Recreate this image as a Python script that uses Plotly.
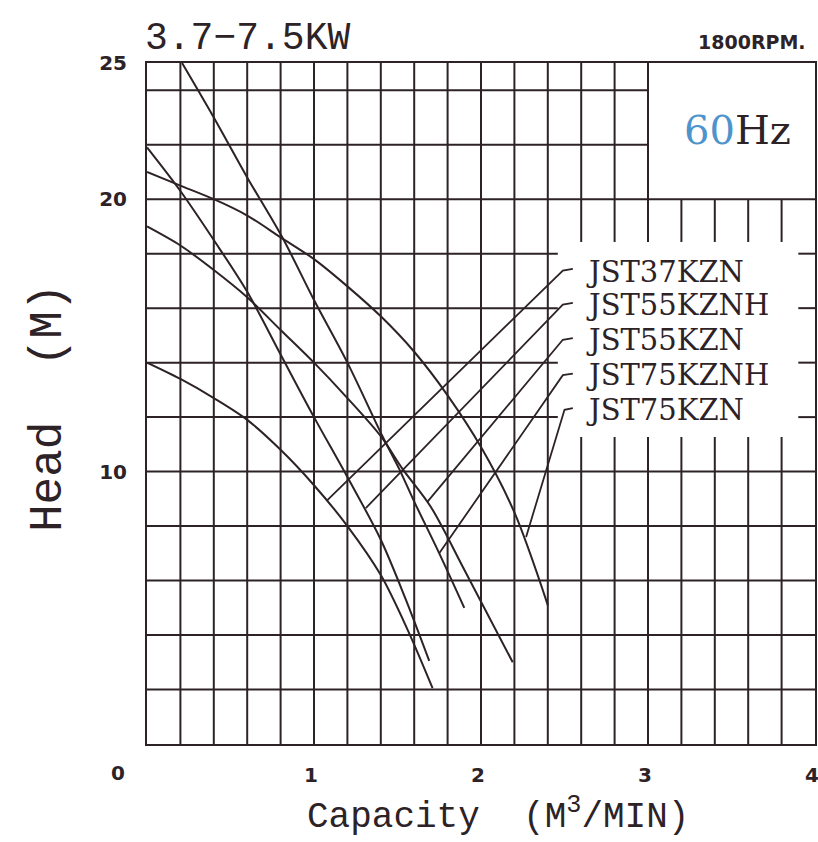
import plotly.graph_objects as go

# ---------------- data ----------------
models = ["JST37KZN", "JST55KZNH", "JST55KZN", "JST75KZNH", "JST75KZN"]

q_37kzn = [0.0, 0.2, 0.4, 0.6, 0.8, 1.0, 1.2, 1.4, 1.56, 1.71]
h_37kzn = [14.0, 13.4, 12.7, 11.9, 10.8, 9.5, 8.0, 6.2, 4.2, 2.05]

q_55kznh = [0.0, 0.2, 0.4, 0.6, 0.8, 1.0, 1.2, 1.4, 1.55, 1.69]
h_55kznh = [21.9, 20.3, 18.5, 16.6, 14.3, 12.0, 9.8, 7.5, 5.3, 3.05]

q_55kzn = [0.0, 0.2, 0.4, 0.6, 0.8, 1.0, 1.2, 1.4, 1.53, 1.7, 1.9, 2.19]
h_55kzn = [19.0, 18.3, 17.4, 16.4, 15.2, 14.0, 12.7, 11.3, 10.1, 8.7, 6.4, 3.0]

q_75kznh = [0.21, 0.4, 0.6, 0.81, 1.0, 1.2, 1.41, 1.51, 1.6, 1.75, 1.9]
h_75kznh = [25.0, 23.0, 20.8, 18.6, 16.3, 14.0, 11.3, 10.1, 8.9, 7.0, 5.0]

q_75kzn = [0.0, 0.2, 0.4, 0.6, 0.8, 1.0, 1.2, 1.4, 1.6, 1.8, 2.0, 2.2, 2.4]
h_75kzn = [21.0, 20.5, 20.0, 19.4, 18.6, 17.8, 16.8, 15.7, 14.4, 12.8, 10.9, 8.5, 5.1]

# leader lines: hook end, bend, point on curve
leader_q = [[2.55, 2.49, 1.08], [2.55, 2.49, 1.31], [2.55, 2.49, 1.68],
            [2.55, 2.49, 1.75], [2.55, 2.50, 2.27]]
leader_h = [[17.44, 17.38, 8.95], [16.19, 16.13, 8.66], [14.90, 14.84, 8.9],
            [13.60, 13.54, 7.0], [12.33, 12.27, 7.6]]
label_h = [17.33, 16.12, 14.83, 13.55, 12.26]

x_ticks = [1, 2, 3, 4]
y_ticks = [10, 20, 25]

# ---------------- styling ----------------
INK = "#2d2226"
X_MAX, Y_MAX = 4.0, 25.0
BOX_X0, BOX_X1, BOX_Y0, BOX_Y1 = 2.46, 3.90, 11.27, 18.43   # label panel
HZ_X0 = 3.0                                                  # 60Hz panel (y>20)
TICKFONT = dict(family="DejaVu Sans", size=20, color=INK, weight="bold")

fig = go.Figure()

# grid lines as shapes in data coordinates
shapes = []
def seg(x0, y0, x1, y1):
    shapes.append(dict(type="line", xref="x", yref="y", x0=x0, y0=y0, x1=x1, y1=y1,
                       line=dict(color=INK, width=2), layer="below"))

for k in range(1, 20):
    x = round(k * 0.2, 2)
    top = 20.0 if x > HZ_X0 else Y_MAX
    if BOX_X0 < x < BOX_X1:
        seg(x, 0, x, BOX_Y0)
        seg(x, BOX_Y1, x, top)
    else:
        seg(x, 0, x, top)

for y in range(2, 25, 2):
    if 20 < y < 25:
        seg(0, y, HZ_X0, y)
    elif BOX_Y0 < y < BOX_Y1:
        seg(0, y, BOX_X0, y)
        seg(BOX_X1, y, X_MAX, y)
    else:
        seg(0, y, X_MAX, y)

curves = [(q_37kzn, h_37kzn), (q_55kznh, h_55kznh), (q_55kzn, h_55kzn),
          (q_75kznh, h_75kznh), (q_75kzn, h_75kzn)]
for name, (q, h) in zip(models, curves):
    fig.add_trace(go.Scatter(x=q, y=h, mode="lines", name=name,
                             line=dict(color=INK, width=2, shape="spline", smoothing=0.9),
                             showlegend=False, hoverinfo="skip"))

for name, lq, lh in zip(models, leader_q, leader_h):
    fig.add_trace(go.Scatter(x=lq, y=lh, mode="lines",
                             line=dict(color=INK, width=1.8),
                             showlegend=False, hoverinfo="skip"))

annotations = []
for name, y in zip(models, label_h):
    annotations.append(dict(x=2.635, y=y, xref="x", yref="y", text=name, showarrow=False,
                            xanchor="left", yanchor="middle", xshift=-3,
                            font=dict(family="DejaVu Serif", size=29, color=INK)))

annotations += [
    dict(x=3.533, y=22.54, xref="x", yref="y", showarrow=False,
         text="<span style='color:#4f93cc'>60</span>Hz",
         font=dict(family="DejaVu Serif", size=40, color=INK)),
    dict(x=0.0, y=1.0367, xref="paper", yref="paper", showarrow=False,
         xanchor="left", yanchor="middle", text="3.7−7.5KW", xshift=-4,
         font=dict(family="Liberation Mono", size=38, color=INK)),
    dict(x=0.9865, y=1.031, xref="paper", yref="paper", showarrow=False,
         xanchor="right", yanchor="middle", text="1800RPM.", xshift=2,
         font=dict(family="DejaVu Sans", size=19, color=INK, weight="bold")),
    dict(x=0.5254, y=-0.104, xref="paper", yref="paper", showarrow=False,
         xanchor="center", yanchor="middle",
         text="Capacity\u00a0\u00a0(M<sup>3</sup>/MIN)",
         font=dict(family="Liberation Mono", size=36, color=INK)),
    dict(x=-0.1467, y=0.4934, xref="paper", yref="paper", showarrow=False,
         xanchor="center", yanchor="middle", textangle=-90,
         text="Head\u00a0\u00a0(M)",
         font=dict(family="Liberation Mono", size=46, color=INK)),
    dict(x=-0.0434, y=-0.0426, xref="paper", yref="paper", showarrow=False,
         xanchor="center", yanchor="middle", text="0", font=TICKFONT),
]

fig.update_layout(
    width=818, height=842,
    margin=dict(l=147, r=3, t=63, b=98, autoexpand=False),
    paper_bgcolor="white", plot_bgcolor="white",
    shapes=shapes, annotations=annotations,
    xaxis=dict(range=[0, X_MAX], tickvals=x_ticks, ticktext=[str(v) for v in x_ticks],
               showgrid=False, zeroline=False, showline=True, mirror=True, automargin=False,
               linecolor=INK, linewidth=2, ticks="", ticklabelstandoff=12,
               ticklabelshift=-3, ticklabeloverflow="allow", tickfont=TICKFONT),
    yaxis=dict(range=[0, Y_MAX], tickvals=y_ticks, ticktext=[str(v) for v in y_ticks],
               showgrid=False, zeroline=False, showline=True, mirror=True, automargin=False,
               linecolor=INK, linewidth=2, ticks="", ticklabelstandoff=14,
               tickfont=TICKFONT),
)

fig.write_html("out.html", config={"displayModeBar": False},
               post_script="document.body.style.margin='0';document.body.style.overflow='hidden';")
